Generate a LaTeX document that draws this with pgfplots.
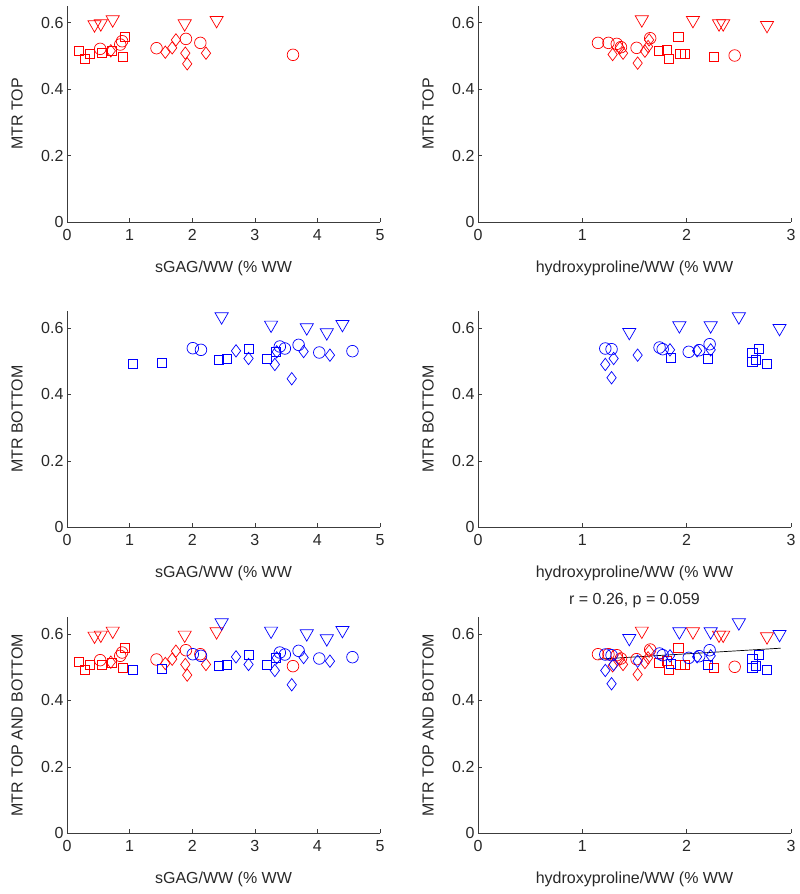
\documentclass[border=0pt]{standalone}
\usepackage{pgfplots}
\pgfplotsset{compat=1.18}
\usepackage{fontspec}
\setmainfont{Liberation Sans}
\definecolor{mred}{RGB}{255,0,0}
\definecolor{mblue}{RGB}{0,0,255}
\definecolor{axgray}{RGB}{60,60,60}
\definecolor{txt}{RGB}{40,40,40}

% red = MTR top, blue = MTR bottom
% sGAG columns
\pgfplotstableread{
x y
0.44 0.594
0.54 0.597
0.73 0.609
1.88 0.597
2.39 0.607
}\sRtri
\pgfplotstableread{
x y
0.19 0.516
0.28 0.491
0.37 0.506
0.56 0.508
0.72 0.514
0.89 0.498
0.92 0.558
}\sRsq
\pgfplotstableread{
x y
0.53 0.521
0.85 0.534
0.88 0.544
1.43 0.523
1.90 0.551
2.13 0.539
3.61 0.503
}\sRci
\pgfplotstableread{
x y
0.70 0.515
1.57 0.511
1.68 0.524
1.74 0.548
1.89 0.508
1.92 0.476
2.22 0.508
}\sRdi
\pgfplotstableread{
x y
1.05 0.493
1.51 0.495
2.43 0.505
2.55 0.508
2.90 0.538
3.19 0.508
3.33 0.527
}\sBsq
\pgfplotstableread{
x y
2.01 0.539
2.14 0.534
3.40 0.544
3.48 0.538
3.70 0.549
4.03 0.526
4.56 0.530
}\sBci
\pgfplotstableread{
x y
2.70 0.531
2.90 0.508
3.32 0.490
3.35 0.528
3.59 0.447
3.78 0.529
4.20 0.518
}\sBdi
\pgfplotstableread{
x y
2.47 0.634
3.26 0.609
3.83 0.601
4.15 0.586
4.40 0.611
}\sBtri
% hydroxyproline columns
\pgfplotstableread{
x y
1.57 0.609
2.06 0.607
2.31 0.597
2.35 0.597
2.77 0.592
}\hRtri
\pgfplotstableread{
x y
1.15 0.539
1.25 0.539
1.33 0.536
1.37 0.526
1.52 0.524
1.65 0.553
2.46 0.501
}\hRci
\pgfplotstableread{
x y
1.73 0.514
1.81 0.518
1.83 0.491
1.92 0.558
1.94 0.506
1.98 0.506
2.26 0.498
}\hRsq
\pgfplotstableread{
x y
1.29 0.504
1.36 0.524
1.39 0.508
1.53 0.478
1.60 0.514
1.63 0.528
1.64 0.548
}\hRdi
\pgfplotstableread{
x y
1.45 0.587
1.93 0.607
2.23 0.607
2.50 0.634
2.89 0.599
}\hBtri
\pgfplotstableread{
x y
1.22 0.538
1.28 0.536
1.74 0.541
1.77 0.536
2.02 0.528
2.12 0.533
2.22 0.551
}\hBci
\pgfplotstableread{
x y
1.85 0.511
2.20 0.508
2.63 0.526
2.69 0.538
2.63 0.497
2.66 0.505
2.77 0.492
}\hBsq
\pgfplotstableread{
x y
1.22 0.490
1.28 0.450
1.30 0.508
1.53 0.518
1.84 0.534
2.10 0.531
2.23 0.534
}\hBdi
\pgfplotstableread{
x y
1.15 0.524
2.90 0.557
}\fitline

\pgfplotsset{
  mat/.style={
    width=313bp, height=216bp, scale only axis,
    axis lines*=left,
    axis line style={axgray, line width=0.8bp, -},
    tick align=inside, major tick length=4bp,
    tick style={axgray, line width=0.6bp},
    ymin=0, ymax=0.65, ytick={0,0.2,0.4,0.6},
    font=\fontsize{16bp}{19bp}\selectfont,
    /pgf/number format/assume math mode=true,
    ticklabel style={text=txt, font=\fontsize{16bp}{19bp}\selectfont},
    xticklabel style={yshift=-4bp},
    label style={text=txt, font=\fontsize{16bp}{19bp}\selectfont},
    xlabel style={at={(axis description cs:0.5,0)}, anchor=north, yshift=-35bp},
    ylabel style={at={(axis description cs:-0.130,0.5)}, anchor=south, rotate=0},
    title style={text=txt, font=\fontsize{16bp}{19bp}\selectfont},
    anchor=south west,
    clip=false,
  },
  left/.style={mat, xmin=0, xmax=5, xtick={0,1,2,3,4,5}, xlabel={sGAG/WW (\% WW}},
  right/.style={mat, xmin=0, xmax=3, xtick={0,1,2,3}, xlabel={hydroxyproline/WW (\% WW}},
  ci/.style={only marks, mark=o, mark size=5.8bp, line width=0.7bp},
  sq/.style={only marks, mark=square, mark size=4.6bp, line width=0.7bp},
  di/.style={only marks, mark=diamond, mark size=6.2bp, line width=0.7bp},
  tr/.style={only marks, mark=triangle, mark size=7.6bp, mark options={rotate=180}, line width=0.7bp},
}

\begin{document}
\begin{tikzpicture}[x=1bp,y=1bp]
\path[use as bounding box] (0,0) rectangle (800,894);

% Row 1
\begin{axis}[left, at={(67bp,672bp)}, ylabel={MTR TOP}]
\addplot[ci, mred] table {\sRci};
\addplot[sq, mred] table {\sRsq};
\addplot[di, mred] table {\sRdi};
\addplot[tr, mred] table {\sRtri};
\end{axis}
\begin{axis}[right, at={(478bp,672bp)}, ylabel={MTR TOP}]
\addplot[ci, mred] table {\hRci};
\addplot[sq, mred] table {\hRsq};
\addplot[di, mred] table {\hRdi};
\addplot[tr, mred] table {\hRtri};
\end{axis}

% Row 2
\begin{axis}[left, at={(67bp,366.7bp)}, ylabel={MTR BOTTOM}]
\addplot[ci, mblue] table {\sBci};
\addplot[sq, mblue] table {\sBsq};
\addplot[di, mblue] table {\sBdi};
\addplot[tr, mblue] table {\sBtri};
\end{axis}
\begin{axis}[right, at={(478bp,366.7bp)}, ylabel={MTR BOTTOM}]
\addplot[ci, mblue] table {\hBci};
\addplot[sq, mblue] table {\hBsq};
\addplot[di, mblue] table {\hBdi};
\addplot[tr, mblue] table {\hBtri};
\end{axis}

% Row 3
\begin{axis}[left, at={(67bp,60.7bp)}, ylabel={MTR TOP AND BOTTOM}]
\addplot[ci, mred] table {\sRci};
\addplot[sq, mred] table {\sRsq};
\addplot[di, mred] table {\sRdi};
\addplot[tr, mred] table {\sRtri};
\addplot[ci, mblue] table {\sBci};
\addplot[sq, mblue] table {\sBsq};
\addplot[di, mblue] table {\sBdi};
\addplot[tr, mblue] table {\sBtri};
\end{axis}
\begin{axis}[right, at={(478bp,60.7bp)}, ylabel={MTR TOP AND BOTTOM}, title={r = 0.26, p = 0.059}]
\addplot[ci, mred] table {\hRci};
\addplot[sq, mred] table {\hRsq};
\addplot[di, mred] table {\hRdi};
\addplot[tr, mred] table {\hRtri};
\addplot[ci, mblue] table {\hBci};
\addplot[sq, mblue] table {\hBsq};
\addplot[di, mblue] table {\hBdi};
\addplot[tr, mblue] table {\hBtri};
\addplot[black, line width=0.7bp, no marks] table {\fitline};
\end{axis}
\end{tikzpicture}
\end{document}
